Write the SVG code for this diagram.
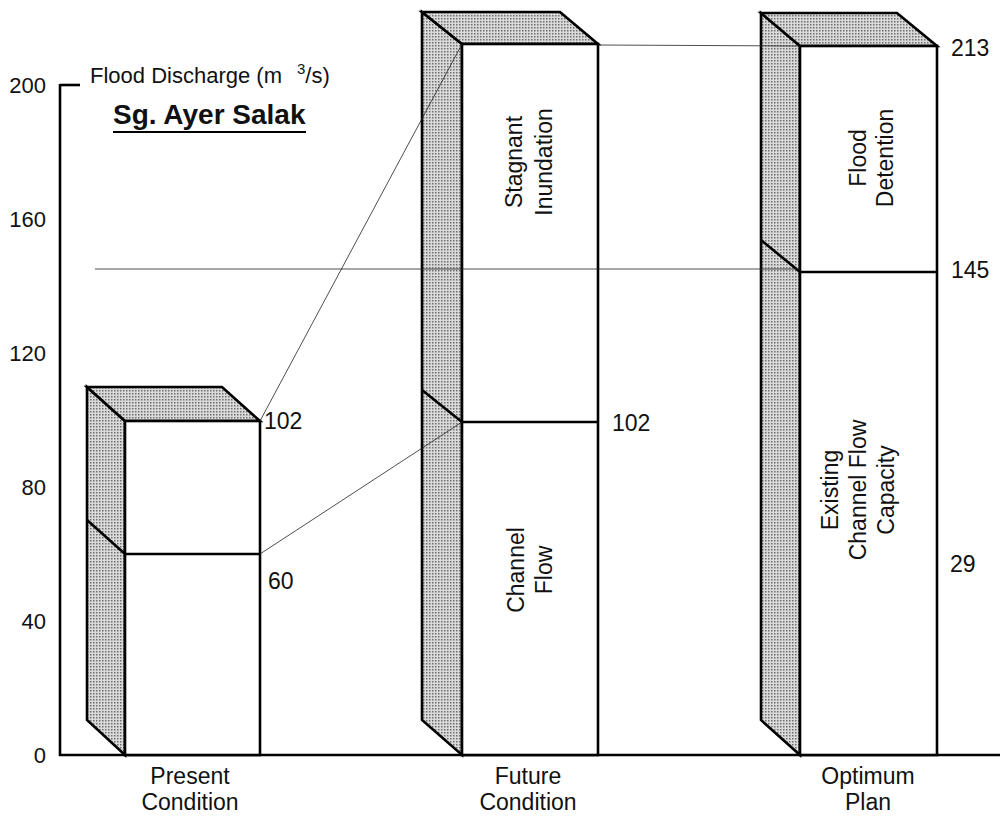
<svg xmlns="http://www.w3.org/2000/svg" width="1006" height="820" viewBox="0 0 1006 820">
<style>
text{font-family:"Liberation Sans",Arial,sans-serif;fill:#111}
.lab{font-size:23px}
.ax{font-size:22px;text-anchor:end}
.cen{text-anchor:middle;font-size:23px}
.vt{text-anchor:middle;font-size:23px}
.face{fill:#fff;stroke:#000;stroke-width:2.6;stroke-linejoin:miter}
.shade{fill:url(#dots);stroke:#000;stroke-width:2.6;stroke-linejoin:miter}
.thick{stroke:#000;stroke-width:2.6;fill:none}
.thin{stroke:#222;stroke-width:0.8;fill:none}
</style>
<defs>
<pattern id="dots" width="3" height="3" patternUnits="userSpaceOnUse">
<rect width="3" height="3" fill="#dadada"/>
<rect width="1.5" height="1.5" fill="#6e6e6e"/>
</pattern>
</defs>
<rect width="1006" height="820" fill="#fff"/>
<g id="axes">
<line class="thick" x1="60" y1="84" x2="60" y2="756"/>
<line class="thick" x1="60" y1="85" x2="80" y2="85"/>
<line class="thick" x1="59" y1="755" x2="1000" y2="755"/>
<text class="ax" x="46" y="93">200</text>
<text class="ax" x="46" y="227">160</text>
<text class="ax" x="46" y="361">120</text>
<text class="ax" x="46" y="495">80</text>
<text class="ax" x="46" y="629">40</text>
<text class="ax" x="46" y="763">0</text>
<text x="90" y="83" font-size="22">Flood Discharge (m<tspan font-size="15" dx="15" dy="-9">3</tspan><tspan dy="9">/s)</tspan></text>
<text x="113" y="124" font-size="28" font-weight="bold">Sg. Ayer Salak</text>
<line x1="113" y1="132" x2="306" y2="132" stroke="#000" stroke-width="2.2"/>
</g>
<g id="bar-present">
<polygon class="shade" points="87,387 125,421 125,755 87,720"/>
<polygon class="shade" points="87,387 222,387 260,421 125,421"/>
<rect class="face" x="125" y="421" width="135" height="334"/>
<polyline class="thick" points="87,520 125,554 260,554"/>
<text class="lab" x="264" y="429">102</text>
<text class="lab" x="268" y="589">60</text>
<text class="cen" x="190" y="784">Present</text>
<text class="cen" x="190" y="810">Condition</text>
</g>
<g id="bar-future">
<polygon class="shade" points="422,12 462,44 462,755 422,720"/>
<polygon class="shade" points="422,12 560,12 598,44 462,44"/>
<rect class="face" x="462" y="44" width="136" height="711"/>
<polyline class="thick" points="422,390 462,422 598,422"/>
<text class="vt" transform="translate(522,162) rotate(-90)"><tspan x="0" y="0">Stagnant</tspan><tspan x="0" y="30">Inundation</tspan></text>
<text class="vt" transform="translate(524,570) rotate(-90)"><tspan x="0" y="0">Channel</tspan><tspan x="0" y="28">Flow</tspan></text>
<text class="lab" x="612" y="431">102</text>
<text class="cen" x="528" y="784">Future</text>
<text class="cen" x="528" y="810">Condition</text>
</g>
<g id="bar-optimum">
<polygon class="shade" points="761,13 800,46 800,755 761,720"/>
<polygon class="shade" points="761,13 897,13 937,46 800,46"/>
<rect class="face" x="800" y="46" width="137" height="709"/>
<polyline class="thick" points="761,240 800,272 937,272"/>
<text class="vt" transform="translate(866,158) rotate(-90)"><tspan x="0" y="0">Flood</tspan><tspan x="0" y="27">Detention</tspan></text>
<text class="vt" transform="translate(838,490) rotate(-90)"><tspan x="0" y="0">Existing</tspan><tspan x="0" y="28">Channel Flow</tspan><tspan x="0" y="56">Capacity</tspan></text>
<text class="lab" x="951" y="56">213</text>
<text class="lab" x="951" y="278">145</text>
<text class="lab" x="950" y="572">29</text>
<text class="cen" x="868" y="784">Optimum</text>
<text class="cen" x="868" y="810">Plan</text>
</g>
<g id="connectors">
<line class="thin" x1="260" y1="421" x2="462" y2="44"/>
<line class="thin" x1="260" y1="554" x2="462" y2="422"/>
<line class="thin" x1="598" y1="45" x2="800" y2="46"/>
<line class="thin" x1="95" y1="269" x2="800" y2="269"/>
</g>
</svg>
